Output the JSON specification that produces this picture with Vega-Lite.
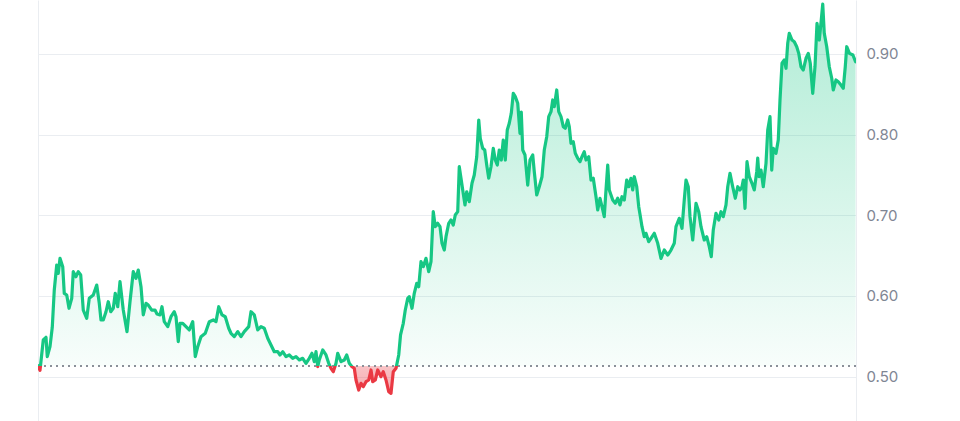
{
  "$schema": "https://vega.github.io/schema/vega-lite/v6.json",
  "width": 818,
  "height": 421,
  "autosize": {"type": "none"},
  "padding": {"left": 38, "right": 104, "top": 0, "bottom": 0},
  "background": "#ffffff",
  "config": {"view": {"stroke": null}},
  "data": {"values": [
    {"d":0,"v":0.5136},{"d":0.22,"v":0.5080},{"d":0.58,"v":0.5455},{"d":0.88,"v":0.5488},{"d":1.02,"v":0.5248},{"d":1.32,"v":0.5372},{"d":1.57,"v":0.5612},{"d":1.79,"v":0.6074},{"d":2.06,"v":0.6384},{"d":2.23,"v":0.6281},{"d":2.42,"v":0.6467},{"d":2.72,"v":0.6363},{"d":2.89,"v":0.6033},{"d":3.16,"v":0.6012},{"d":3.41,"v":0.5848},{"d":3.71,"v":0.5971},{"d":3.88,"v":0.6301},{"d":4.18,"v":0.6239},{"d":4.43,"v":0.6301},{"d":4.70,"v":0.6260},{"d":4.98,"v":0.5826},{"d":5.36,"v":0.5724},{"d":5.64,"v":0.5971},{"d":6.08,"v":0.6012},{"d":6.46,"v":0.6136},{"d":6.74,"v":0.5909},{"d":6.93,"v":0.5703},{"d":7.18,"v":0.5703},{"d":7.48,"v":0.5805},{"d":7.73,"v":0.5929},{"d":8.00,"v":0.5805},{"d":8.28,"v":0.5848},{"d":8.50,"v":0.6033},{"d":8.77,"v":0.5867},{"d":9.02,"v":0.6177},{"d":9.38,"v":0.5826},{"d":9.79,"v":0.5558},{"d":10.12,"v":0.5929},{"d":10.48,"v":0.6301},{"d":10.78,"v":0.6219},{"d":11.03,"v":0.6322},{"d":11.33,"v":0.6115},{"d":11.58,"v":0.5765},{"d":11.88,"v":0.5909},{"d":12.13,"v":0.5888},{"d":12.51,"v":0.5826},{"d":12.87,"v":0.5826},{"d":13.09,"v":0.5777},{"d":13.42,"v":0.5765},{"d":13.64,"v":0.5867},{"d":13.89,"v":0.5682},{"d":14.27,"v":0.5620},{"d":14.63,"v":0.5743},{"d":14.99,"v":0.5805},{"d":15.18,"v":0.5743},{"d":15.43,"v":0.5434},{"d":15.62,"v":0.5662},{"d":15.92,"v":0.5662},{"d":16.28,"v":0.5620},{"d":16.64,"v":0.5579},{"d":17.02,"v":0.5682},{"d":17.30,"v":0.5248},{"d":17.57,"v":0.5372},{"d":17.93,"v":0.5496},{"d":18.40,"v":0.5538},{"d":18.84,"v":0.5682},{"d":19.28,"v":0.5703},{"d":19.58,"v":0.5682},{"d":19.88,"v":0.5867},{"d":20.24,"v":0.5765},{"d":20.60,"v":0.5743},{"d":20.98,"v":0.5600},{"d":21.23,"v":0.5538},{"d":21.59,"v":0.5496},{"d":21.97,"v":0.5558},{"d":22.33,"v":0.5496},{"d":22.69,"v":0.5558},{"d":23.18,"v":0.5620},{"d":23.43,"v":0.5805},{"d":23.79,"v":0.5765},{"d":24.17,"v":0.5579},{"d":24.53,"v":0.5620},{"d":24.89,"v":0.5600},{"d":25.27,"v":0.5476},{"d":25.63,"v":0.5393},{"d":25.99,"v":0.5310},{"d":26.37,"v":0.5310},{"d":26.62,"v":0.5269},{"d":26.92,"v":0.5310},{"d":27.28,"v":0.5248},{"d":27.64,"v":0.5269},{"d":28.02,"v":0.5228},{"d":28.38,"v":0.5248},{"d":28.74,"v":0.5207},{"d":29.12,"v":0.5228},{"d":29.48,"v":0.5166},{"d":29.84,"v":0.5228},{"d":30.14,"v":0.5290},{"d":30.39,"v":0.5186},{"d":30.58,"v":0.5310},{"d":30.77,"v":0.5124},{"d":30.94,"v":0.5207},{"d":31.32,"v":0.5331},{"d":31.68,"v":0.5269},{"d":31.98,"v":0.5166},{"d":32.23,"v":0.5104},{"d":32.48,"v":0.5062},{"d":32.78,"v":0.5166},{"d":32.97,"v":0.5290},{"d":33.33,"v":0.5186},{"d":33.69,"v":0.5207},{"d":33.96,"v":0.5269},{"d":34.24,"v":0.5166},{"d":34.54,"v":0.5124},{"d":34.79,"v":0.5104},{"d":34.98,"v":0.4959},{"d":35.28,"v":0.4835},{"d":35.53,"v":0.4918},{"d":35.78,"v":0.4876},{"d":36.08,"v":0.4938},{"d":36.38,"v":0.4959},{"d":36.63,"v":0.5083},{"d":36.82,"v":0.4938},{"d":37.10,"v":0.4959},{"d":37.37,"v":0.5083},{"d":37.73,"v":0.5000},{"d":37.98,"v":0.5062},{"d":38.28,"v":0.4959},{"d":38.58,"v":0.4814},{"d":38.83,"v":0.4794},{"d":39.08,"v":0.5062},{"d":39.38,"v":0.5104},{"d":39.68,"v":0.5269},{"d":39.88,"v":0.5517},{"d":40.18,"v":0.5662},{"d":40.40,"v":0.5826},{"d":40.67,"v":0.5971},{"d":40.84,"v":0.5991},{"d":41.14,"v":0.5848},{"d":41.39,"v":0.6033},{"d":41.66,"v":0.6157},{"d":41.88,"v":0.6115},{"d":42.13,"v":0.6425},{"d":42.38,"v":0.6363},{"d":42.68,"v":0.6467},{"d":42.98,"v":0.6301},{"d":43.23,"v":0.6425},{"d":43.48,"v":0.7045},{"d":43.70,"v":0.6859},{"d":43.97,"v":0.6901},{"d":44.22,"v":0.6859},{"d":44.44,"v":0.6653},{"d":44.69,"v":0.6570},{"d":44.88,"v":0.6735},{"d":45.18,"v":0.6901},{"d":45.43,"v":0.6942},{"d":45.68,"v":0.6880},{"d":45.90,"v":0.7004},{"d":46.17,"v":0.7045},{"d":46.34,"v":0.7602},{"d":46.53,"v":0.7459},{"d":46.72,"v":0.7314},{"d":46.97,"v":0.7128},{"d":47.16,"v":0.7292},{"d":47.44,"v":0.7169},{"d":47.74,"v":0.7397},{"d":47.99,"v":0.7499},{"d":48.26,"v":0.7726},{"d":48.48,"v":0.8181},{"d":48.65,"v":0.7954},{"d":48.92,"v":0.7830},{"d":49.14,"v":0.7809},{"d":49.36,"v":0.7623},{"d":49.58,"v":0.7459},{"d":49.83,"v":0.7602},{"d":50.08,"v":0.7830},{"d":50.30,"v":0.7685},{"d":50.52,"v":0.7623},{"d":50.74,"v":0.7809},{"d":50.96,"v":0.7685},{"d":51.18,"v":0.7933},{"d":51.40,"v":0.7685},{"d":51.62,"v":0.8057},{"d":51.84,"v":0.8140},{"d":52.06,"v":0.8264},{"d":52.28,"v":0.8512},{"d":52.50,"v":0.8470},{"d":52.77,"v":0.8388},{"d":53.02,"v":0.8016},{"d":53.16,"v":0.8280},{"d":53.32,"v":0.7809},{"d":53.57,"v":0.7747},{"d":53.87,"v":0.7375},{"d":54.12,"v":0.7685},{"d":54.42,"v":0.7747},{"d":54.59,"v":0.7540},{"d":54.86,"v":0.7252},{"d":55.14,"v":0.7354},{"d":55.44,"v":0.7478},{"d":55.69,"v":0.7809},{"d":55.96,"v":0.7974},{"d":56.18,"v":0.8222},{"d":56.43,"v":0.8284},{"d":56.62,"v":0.8429},{"d":56.79,"v":0.8346},{"d":57.06,"v":0.8553},{"d":57.28,"v":0.8284},{"d":57.53,"v":0.8222},{"d":57.78,"v":0.8098},{"d":58.00,"v":0.8078},{"d":58.27,"v":0.8181},{"d":58.44,"v":0.8098},{"d":58.63,"v":0.7892},{"d":58.88,"v":0.7912},{"d":59.10,"v":0.7768},{"d":59.37,"v":0.7706},{"d":59.62,"v":0.7664},{"d":59.84,"v":0.7726},{"d":60.09,"v":0.7788},{"d":60.28,"v":0.7685},{"d":60.58,"v":0.7726},{"d":60.83,"v":0.7437},{"d":61.08,"v":0.7459},{"d":61.38,"v":0.7230},{"d":61.57,"v":0.7066},{"d":61.82,"v":0.7211},{"d":62.04,"v":0.7107},{"d":62.29,"v":0.6983},{"d":62.48,"v":0.7314},{"d":62.67,"v":0.7623},{"d":62.84,"v":0.7314},{"d":63.22,"v":0.7190},{"d":63.50,"v":0.7149},{"d":63.77,"v":0.7211},{"d":64.02,"v":0.7128},{"d":64.24,"v":0.7230},{"d":64.49,"v":0.7190},{"d":64.76,"v":0.7437},{"d":64.98,"v":0.7354},{"d":65.23,"v":0.7459},{"d":65.42,"v":0.7314},{"d":65.59,"v":0.7478},{"d":65.86,"v":0.7354},{"d":66.08,"v":0.7107},{"d":66.25,"v":0.6991},{"d":66.44,"v":0.6859},{"d":66.69,"v":0.6735},{"d":66.88,"v":0.6777},{"d":67.18,"v":0.6673},{"d":67.43,"v":0.6715},{"d":67.79,"v":0.6777},{"d":68.17,"v":0.6653},{"d":68.53,"v":0.6467},{"d":68.89,"v":0.6570},{"d":69.27,"v":0.6508},{"d":69.63,"v":0.6570},{"d":69.99,"v":0.6653},{"d":70.18,"v":0.6859},{"d":70.54,"v":0.6963},{"d":70.84,"v":0.6839},{"d":71.09,"v":0.7190},{"d":71.28,"v":0.7437},{"d":71.53,"v":0.7354},{"d":71.72,"v":0.6983},{"d":72.02,"v":0.6694},{"d":72.38,"v":0.7149},{"d":72.68,"v":0.7045},{"d":72.93,"v":0.6859},{"d":73.29,"v":0.6694},{"d":73.56,"v":0.6735},{"d":73.84,"v":0.6611},{"d":74.06,"v":0.6487},{"d":74.28,"v":0.6818},{"d":74.58,"v":0.7025},{"d":74.88,"v":0.6942},{"d":75.13,"v":0.7045},{"d":75.38,"v":0.6983},{"d":75.68,"v":0.7128},{"d":75.87,"v":0.7354},{"d":76.12,"v":0.7520},{"d":76.42,"v":0.7354},{"d":76.70,"v":0.7211},{"d":76.97,"v":0.7354},{"d":77.22,"v":0.7314},{"d":77.44,"v":0.7354},{"d":77.58,"v":0.7437},{"d":77.77,"v":0.7087},{"d":77.99,"v":0.7664},{"d":78.24,"v":0.7478},{"d":78.54,"v":0.7397},{"d":78.79,"v":0.7314},{"d":79.06,"v":0.7540},{"d":79.17,"v":0.7710},{"d":79.31,"v":0.7478},{"d":79.53,"v":0.7561},{"d":79.78,"v":0.7354},{"d":80.08,"v":0.7644},{"d":80.27,"v":0.8057},{"d":80.52,"v":0.8222},{"d":80.71,"v":0.7561},{"d":80.88,"v":0.7830},{"d":81.18,"v":0.7768},{"d":81.43,"v":0.7933},{"d":81.62,"v":0.8429},{"d":81.84,"v":0.8884},{"d":82.09,"v":0.8924},{"d":82.28,"v":0.8822},{"d":82.47,"v":0.9131},{"d":82.64,"v":0.9255},{"d":82.94,"v":0.9172},{"d":83.19,"v":0.9151},{"d":83.46,"v":0.9089},{"d":83.68,"v":0.9007},{"d":83.93,"v":0.8841},{"d":84.18,"v":0.8801},{"d":84.48,"v":0.8946},{"d":84.73,"v":0.9007},{"d":84.95,"v":0.8884},{"d":85.22,"v":0.8512},{"d":85.47,"v":0.8841},{"d":85.69,"v":0.9379},{"d":85.94,"v":0.9172},{"d":86.16,"v":0.9420},{"d":86.32,"v":0.9618},{"d":86.49,"v":0.9255},{"d":86.76,"v":0.9089},{"d":87.04,"v":0.8841},{"d":87.31,"v":0.8698},{"d":87.48,"v":0.8553},{"d":87.78,"v":0.8677},{"d":88.03,"v":0.8656},{"d":88.33,"v":0.8615},{"d":88.58,"v":0.8574},{"d":88.80,"v":0.8841},{"d":88.96,"v":0.9089},{"d":89.26,"v":0.9007},{"d":89.64,"v":0.8986},{"d":89.93,"v":0.8903}
  ]},
  "encoding": {
    "x": {"field": "d", "type": "quantitative", "scale": {"domain": [0, 89.98], "nice": false, "zero": false},
      "axis": {"values": [0, 89.98], "grid": true, "gridColor": "#eaedf1", "gridWidth": 1, "labels": false, "ticks": false, "domain": false, "title": null}},
    "y": {"field": "v", "type": "quantitative", "scale": {"domain": [0.4451, 0.9668], "nice": false, "zero": false},
      "axis": {"orient": "right", "values": [0.5, 0.6, 0.7, 0.8, 0.9], "format": ".2f", "grid": true, "gridColor": "#eaedf1", "gridWidth": 1, "domain": false, "ticks": false, "labelPadding": 10, "labelFont": "Inter", "labelFontSize": 15, "labelColor": "#7f8694", "title": null}}
  },
  "layer": [
    {
      "mark": {"type": "area", "clip": true,
        "fill": {"gradient": "linear", "x1": 0, "y1": 0, "x2": 0, "y2": 1,
          "stops": [
            {"offset": 0, "color": "rgba(22,199,132,0.34)"},
            {"offset": 0.929, "color": "rgba(22,199,132,0.03)"},
            {"offset": 0.929, "color": "rgba(234,57,67,0.3)"},
            {"offset": 1, "color": "rgba(234,57,67,0.42)"}
          ]}},
      "encoding": {"y2": {"datum": 0.5136}}
    },
    {
      "mark": {"type": "rule", "stroke": "#8a8f99", "strokeWidth": 1.2, "strokeDash": [1.5, 4.5]},
      "encoding": {"x": null, "y": {"datum": 0.5136}}
    },
    {
      "mark": {"type": "line", "clip": true, "strokeWidth": 3.2, "strokeJoin": "round", "strokeCap": "round",
        "stroke": {"gradient": "linear", "x1": 0, "y1": 0, "x2": 0, "y2": 1,
          "stops": [
            {"offset": 0, "color": "#16c784"},
            {"offset": 0.929, "color": "#16c784"},
            {"offset": 0.929, "color": "#ea3943"},
            {"offset": 1, "color": "#ea3943"}
          ]}},
      "encoding": {}
    }
  ]
}
